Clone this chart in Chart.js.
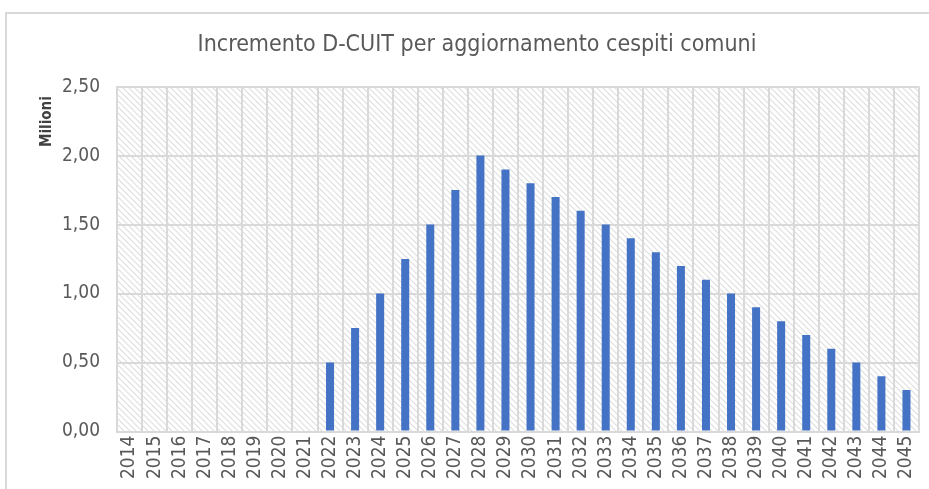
<!DOCTYPE html>
<html>
<head>
<meta charset="utf-8">
<script src="https://cdn.jsdelivr.net/npm/chart.js@4"></script>
<style>
  html, body { margin: 0; padding: 0; background: #fff; overflow: hidden; }
  #frame {
    position: absolute; left: 5px; top: 12px; width: 960px; height: 500px;
    border: 2px solid #d9d9d9; box-sizing: border-box;
  }
  #wrap { position: absolute; left: 5px; top: 0; width: 944px; height: 489px; }
</style>
</head>
<body>
<div id="frame"></div>
<div id="wrap"><canvas id="chart"></canvas></div>
<script>
// Dati del grafico
const years = ['2014', '2015', '2016', '2017', '2018', '2019', '2020', '2021',
  '2022', '2023', '2024', '2025', '2026', '2027', '2028', '2029', '2030', '2031',
  '2032', '2033', '2034', '2035', '2036', '2037', '2038', '2039', '2040', '2041',
  '2042', '2043', '2044', '2045'];
const incremento = [0, 0, 0, 0, 0, 0, 0, 0,
  0.50, 0.75, 1.00, 1.25, 1.50, 1.75, 2.00, 1.90, 1.80, 1.70,
  1.60, 1.50, 1.40, 1.30, 1.20, 1.10, 1.00, 0.90, 0.80, 0.70,
  0.60, 0.50, 0.40, 0.30];
const yTicks = [0, 0.5, 1, 1.5, 2, 2.5];
const yTitle = 'Milioni';

const FONT = '"Liberation Sans Narrow", "DejaVu Sans Condensed", "Liberation Sans", sans-serif';

// sfondo tratteggiato dell'area del grafico
function makeHatch() {
  const c = document.createElement('canvas');
  c.width = 6; c.height = 6;
  const g = c.getContext('2d');
  g.fillStyle = '#ffffff';
  g.fillRect(0, 0, 6, 6);
  g.strokeStyle = '#dedede';
  g.lineWidth = 1.1;
  g.beginPath();
  g.moveTo(-1, -1); g.lineTo(7, 7);
  g.moveTo(-4, 2); g.lineTo(4, 10);
  g.moveTo(2, -4); g.lineTo(10, 4);
  g.stroke();
  return c;
}

const hatchBg = {
  id: 'hatchBg',
  beforeDraw(chart) {
    const { ctx, chartArea } = chart;
    ctx.save();
    ctx.fillStyle = ctx.createPattern(makeHatch(), 'repeat');
    ctx.fillRect(chartArea.left, chartArea.top, chartArea.right - chartArea.left, chartArea.bottom - chartArea.top);
    ctx.restore();
  }
};

// titolo asse Y in alto, come in Excel
const yTitlePlugin = {
  id: 'yTitlePlugin',
  afterDraw(chart) {
    const { ctx, chartArea } = chart;
    ctx.save();
    ctx.translate(chartArea.left - 70, chartArea.top + 35);
    ctx.rotate(-Math.PI / 2);
    ctx.fillStyle = '#404040';
    ctx.font = 'bold 15px ' + FONT;
    ctx.textAlign = 'center';
    ctx.textBaseline = 'middle';
    ctx.fillText(yTitle, 0, 0);
    ctx.restore();
  }
};

new Chart(document.getElementById('chart'), {
  type: 'bar',
  data: {
    labels: years,
    datasets: [{
      label: 'Incremento D-CUIT',
      data: incremento,
      backgroundColor: '#4472c4',
      barPercentage: 0.32,
      categoryPercentage: 1.0
    }]
  },
  options: {
    responsive: true,
    maintainAspectRatio: false,
    animation: false,
    layout: { padding: { left: 30, right: 30, top: 0, bottom: 6 } },
    plugins: {
      legend: { display: false },
      tooltip: { enabled: false },
      title: {
        display: true,
        text: 'Incremento D-CUIT per aggiornamento cespiti comuni',
        color: '#595959',
        font: { family: FONT, size: 23, weight: 'normal' },
        padding: { top: 31, bottom: 28 }
      }
    },
    scales: {
      y: {
        min: 0,
        max: 2.5,
        afterBuildTicks(scale) {
          scale.ticks = yTicks.map(v => ({ value: v }));
        },
        afterFit(scale) {
          scale.width = 82;
        },
        ticks: {
          color: '#595959',
          font: { family: FONT, size: 19 },
          padding: 17,
          callback: v => v.toFixed(2).replace('.', ',')
        },
        grid: { color: '#d9d9d9', lineWidth: 2, drawTicks: false },
        border: { color: '#d9d9d9', width: 2 }
      },
      x: {
        ticks: {
          color: '#595959',
          font: { family: FONT, size: 19 },
          minRotation: 90,
          maxRotation: 90,
          autoSkip: false,
          padding: 4
        },
        grid: { color: '#d9d9d9', lineWidth: 2, drawTicks: false, offset: true },
        border: { color: '#d9d9d9', width: 2 }
      }
    }
  },
  plugins: [hatchBg, yTitlePlugin]
});
</script>
</body>
</html>
